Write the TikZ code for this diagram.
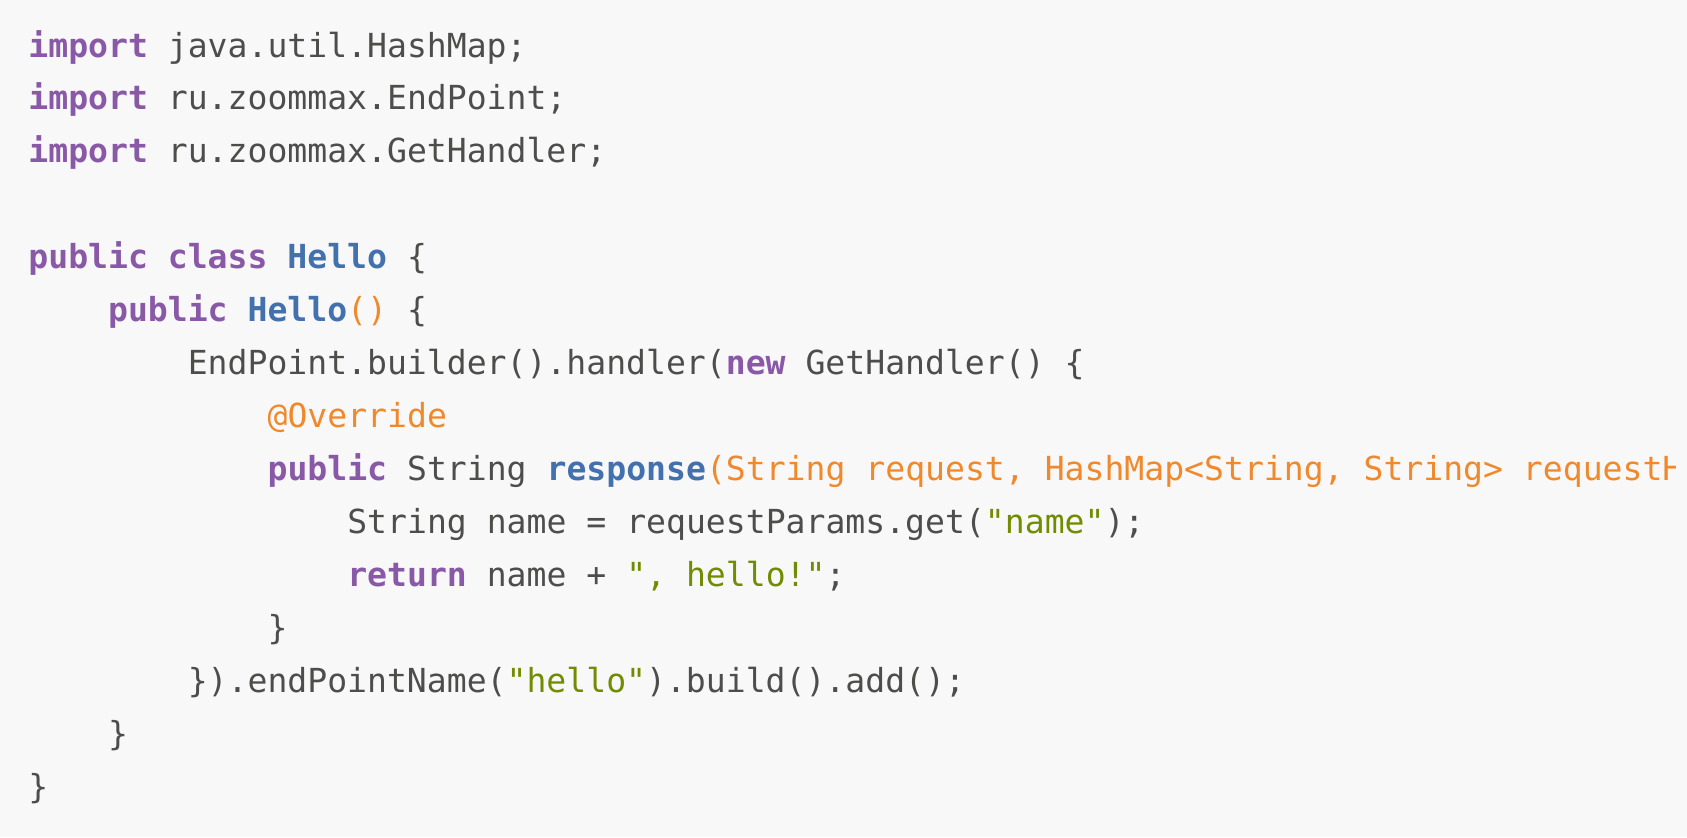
\documentclass[tikz,border=0pt]{standalone}
\usepackage{fontspec}
\setmonofont{DejaVu Sans Mono}
\definecolor{codebg}{HTML}{F8F8F8}
\definecolor{codefg}{HTML}{4D4D4C}
\definecolor{kwpurple}{HTML}{8959A8}
\definecolor{titleblue}{HTML}{4271AE}
\definecolor{paramorange}{HTML}{F0892C}
\definecolor{strgreen}{HTML}{718C00}
\newcommand{\kw}[1]{{\bfseries\color{kwpurple}#1}}
\newcommand{\ttl}[1]{{\bfseries\color{titleblue}#1}}
\newcommand{\prm}[1]{{\color{paramorange}#1}}
\newcommand{\strlit}[1]{{\color{strgreen}#1}}
\newcommand{\codesize}{\fontsize{16.55pt}{26.5pt}\selectfont}
\tikzset{
  codeline/.style= {anchor=base west, inner sep=0, text=codefg, font=\codesize\ttfamily},
}

\begin{document}
\begin{tikzpicture}[x=0.5pt, y=-0.5pt]
  \fill [codebg] (0,0) rectangle (1687,837) ;
  \useasboundingbox (0,0) rectangle (1687,837) ;
  \begin{scope}
    \clip (0,0) rectangle (1675,837) ;
    % imports
    \node [codeline] (impmap) at (28,57) {\kw{import} java.util.HashMap;} ;
    \node [codeline] (impend) at (28,109.95) {\kw{import} ru.zoommax.EndPoint;} ;
    \node [codeline] (imphandler) at (28,162.9) {\kw{import} ru.zoommax.GetHandler;} ;
    % class body
    \node [codeline] (cls) at (28,268.8) {\kw{public} \kw{class} \ttl{Hello} \{} ;
    \node [codeline] (ctor) at (107.7,321.75) {\kw{public} \ttl{Hello}\prm{()} \{} ;
    \node [codeline] (builder) at (187.4,374.7) {EndPoint.builder().handler(\kw{new} GetHandler() \{} ;
    \node [codeline] (override) at (267.2,427.65) {\prm{@Override}} ;
    \node [codeline] (resp) at (267.2,480.6) {\kw{public} String \ttl{response}\prm{(String request, HashMap<String, String> requestH}} ;
    \node [codeline] (getname) at (346.9,533.55) {String name = requestParams.get(\strlit{"name"});} ;
    \node [codeline] (ret) at (346.9,586.5) {\kw{return} name + \strlit{", hello!"};} ;
    \node [codeline] (respclose) at (267.2,639.45) {\}} ;
    \node [codeline] (buildadd) at (187.4,692.4) {\}).endPointName(\strlit{"hello"}).build().add();} ;
    \node [codeline] (ctorclose) at (107.7,745.35) {\}} ;
    \node [codeline] (clsclose) at (28,798.3) {\}} ;
  \end{scope}
\end{tikzpicture}
\end{document}
